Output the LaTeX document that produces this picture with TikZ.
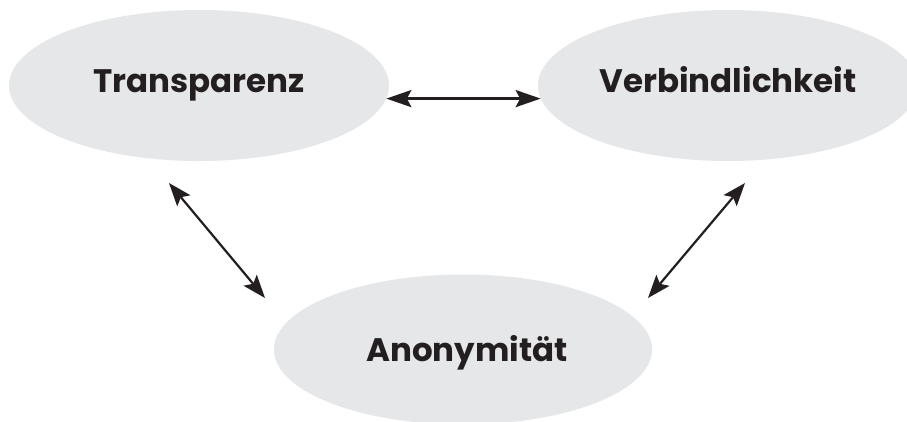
\documentclass[tikz,border=0pt]{standalone}
\usepackage{fontspec}
\newfontfamily\labfont{Poppins}
\usetikzlibrary{shapes.geometric,arrows.meta}
\definecolor{ellgray}{HTML}{E6E7E8}
\definecolor{ink}{HTML}{231F20}
\tikzset{
  bubble/.style={ellipse, fill=ellgray, draw=none, minimum width=380pt, minimum height=151pt, inner sep=0pt},
  lab/.style={anchor=base, text=ink, font=\labfont\bfseries\fontsize{32.5}{36}\selectfont, inner sep=0pt},
  hlink/.style={draw=ink, line width=2.8pt, {Stealth[length=25pt,width=17pt,inset=4.5pt]}-{Stealth[length=25pt,width=17pt,inset=4.5pt]}},
  dlink/.style={draw=ink, line width=2.2pt, {Stealth[length=23pt,width=17pt,inset=4.5pt]}-{Stealth[length=23pt,width=17pt,inset=4.5pt]}},
}
\begin{document}
\begin{tikzpicture}[x=1pt,y=-1pt]
\useasboundingbox (0,0) rectangle (907,421);
\clip (0,0) rectangle (907,421);
\fill[white] (0,0) rectangle (907,421);
\node[bubble] (T) at (199,85.5) {};
\node[bubble] (V) at (728,85.5) {};
\node[bubble, minimum width=378pt, minimum height=150pt] (A) at (463,349.5) {};
\node[lab] (tT) at (199,92) {Transparenz};
\node[lab] (tV) at (728,92) {Verbindlichkeit};
\node[lab] (tA) at (467,361) {Anonymität};
\coordinate (t1) at (169,183);
\coordinate (a1) at (265,298);
\coordinate (v1) at (745,183);
\coordinate (a2) at (648,298);
\draw[hlink] (T.-4) -- (V.184);
\draw[dlink] (t1) -- (a1);
\draw[dlink] (v1) -- (a2);
\end{tikzpicture}
\end{document}
